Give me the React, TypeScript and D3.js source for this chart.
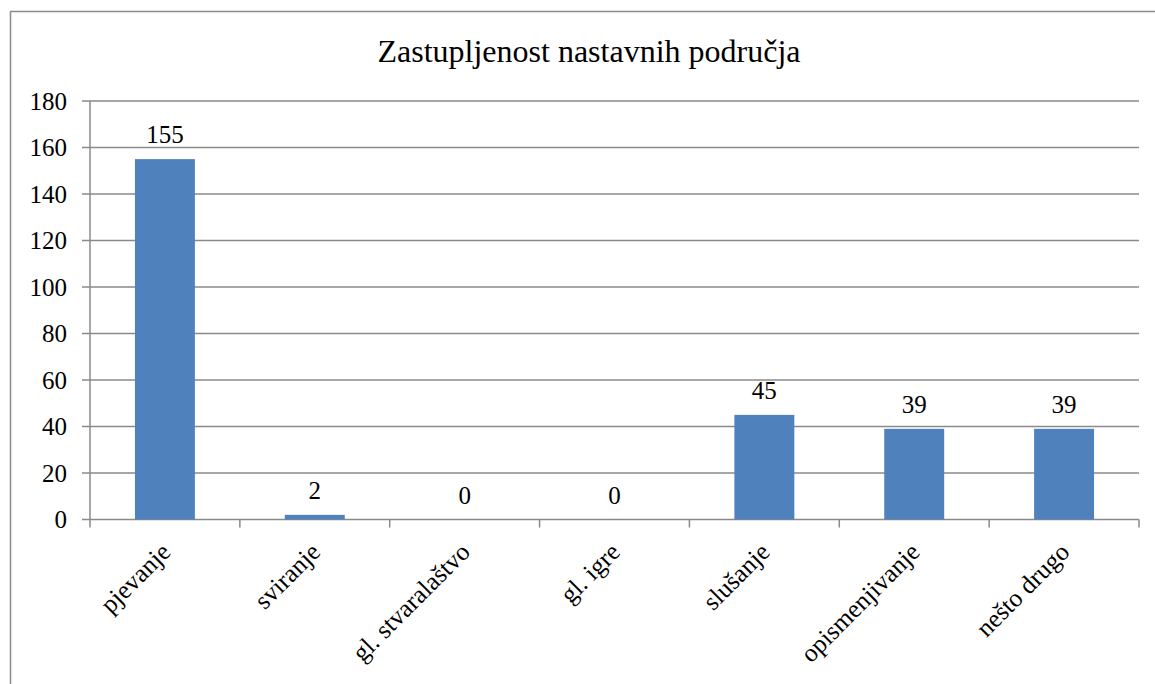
import React, { useEffect, useRef } from 'react';
import * as d3 from 'd3';

const categories = ['pjevanje', 'sviranje', 'gl. stvaralaštvo', 'gl. igre', 'slušanje', 'opismenjivanje', 'nešto drugo'];
const values = [155, 2, 0, 0, 45, 39, 39];
const yTicks = [0, 20, 40, 60, 80, 100, 120, 140, 160, 180];
const title = 'Zastupljenost nastavnih područja';

export default function App() {
  const ref = useRef<SVGSVGElement>(null);

  useEffect(() => {
    const svg = d3.select(ref.current);
    svg.selectAll('*').remove();

    const font = '"Liberation Serif", serif';
    const left = 90, right = 1139, top = 101, bottom = 519.5;

    // chart border
    svg.append('rect')
      .attr('x', 10.5).attr('y', 11.5)
      .attr('width', 1200).attr('height', 700)
      .attr('fill', 'white')
      .attr('stroke', '#8c8c8c').attr('stroke-width', 1.5);

    svg.append('text')
      .attr('x', 589).attr('y', 62)
      .attr('text-anchor', 'middle')
      .attr('font-family', font).attr('font-size', 32)
      .text(title);

    const x = d3.scaleBand().domain(categories).range([left, right]).paddingInner(0.6).paddingOuter(0.3);
    const y = d3.scaleLinear().domain([0, 180]).range([bottom, top]);

    // gridlines
    svg.append('g').selectAll('line').data(yTicks).join('line')
      .attr('x1', left - 8).attr('x2', right)
      .attr('y1', d => y(d)).attr('y2', d => y(d))
      .attr('stroke', '#8a8a8a').attr('stroke-width', 1.5);

    // y axis line
    svg.append('line')
      .attr('x1', left).attr('x2', left).attr('y1', top).attr('y2', bottom)
      .attr('stroke', '#8a8a8a').attr('stroke-width', 1.5);

    // x ticks
    const step = (right - left) / categories.length;
    svg.append('g').selectAll('line').data(d3.range(categories.length + 1)).join('line')
      .attr('x1', i => left + i * step).attr('x2', i => left + i * step)
      .attr('y1', bottom).attr('y2', bottom + 8)
      .attr('stroke', '#8a8a8a').attr('stroke-width', 1.5);

    svg.append('g').selectAll('text').data(yTicks).join('text')
      .attr('x', 67).attr('y', d => y(d) + 8.5)
      .attr('text-anchor', 'end')
      .attr('font-family', font).attr('font-size', 25)
      .text(d => d);

    const data = categories.map((c, i) => ({ c, v: values[i] }));

    svg.append('g').selectAll('rect').data(data.filter(d => d.v > 0)).join('rect')
      .attr('x', d => x(d.c)!)
      .attr('width', x.bandwidth())
      .attr('y', d => y(d.v))
      .attr('height', d => y(0) - y(d.v))
      .attr('fill', '#4F81BD');

    svg.append('g').selectAll('text').data(data).join('text')
      .attr('x', d => x(d.c)! + x.bandwidth() / 2)
      .attr('y', d => y(d.v) - 16)
      .attr('text-anchor', 'middle')
      .attr('font-family', font).attr('font-size', 25)
      .text(d => d.v);

    svg.append('g').selectAll('text').data(categories).join('text')
      .attr('transform', d => `translate(${x(d)! + x.bandwidth() / 2 + 7},${bottom + 34}) rotate(-45)`)
      .attr('text-anchor', 'end')
      .attr('font-family', font).attr('font-size', 25.5)
      .text(d => d);
  }, []);

  return (
    <svg ref={ref} width={1155} height={684} style={{ position: 'absolute', left: 0, top: 0 }} />
  );
}
